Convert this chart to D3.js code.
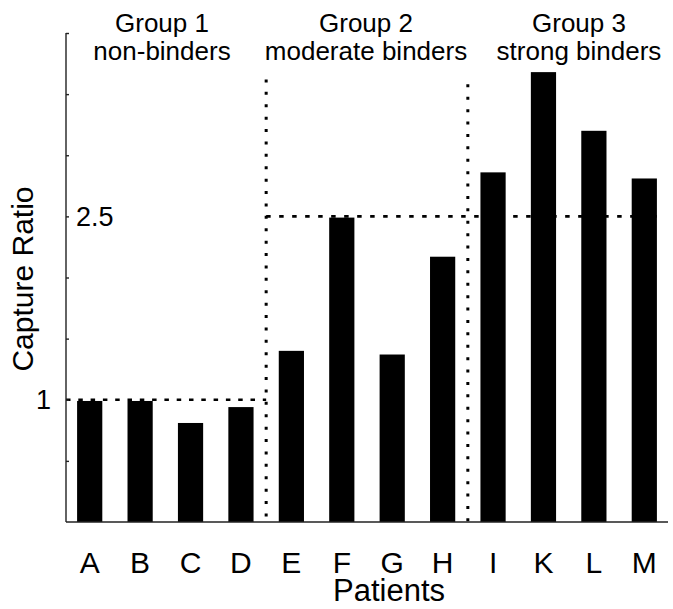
<!DOCTYPE html>
<html>
<head>
<meta charset="utf-8">
<script src="https://cdn.jsdelivr.net/npm/d3@7"></script>
<style>
  body { margin: 0; background: #fff; }
  text { font-family: "Liberation Sans", Arial, sans-serif; fill: #000; }
</style>
</head>
<body>
<div id="container"></div>
<script>
// patients and their capture ratios
let patients = ["A", "B", "C", "D", "E", "F", "G", "H", "I", "K", "L", "M"];
let captureRatio = [0.99, 0.99, 0.81, 0.94, 1.40, 2.49, 1.37, 2.17, 2.86, 3.68, 3.20, 2.81];

// group headings (two lines each) and the patients they span
let groupTitles = ["Group 1", "Group 2", "Group 3"];
let groupSubtitles = ["non-binders", "moderate binders", "strong binders"];
let groupFirst = ["A", "E", "I"];
let groupLast = ["D", "H", "M"];

// thresholds drawn as dotted lines
let thresholds = [1, 2.5];
let labelledTicks = ["1", "2.5"];
let yTicks = [0.5, 1, 1.5, 2, 2.5, 3, 3.5, 4];

let width = 673;
let height = 609;

let svg = d3.select("#container")
    .append("svg")
    .attr("width", width)
    .attr("height", height);

let x = d3.scaleBand()
    .domain(patients)
    .range([66, 668])
    .paddingInner(0.5)
    .paddingOuter(0.22);

let y = d3.scaleLinear()
    .domain([0, 4])
    .range([522, 33]);

// gap between two groups, halfway between last bar of one and first of next
function divider(i) {
    let a = x(groupLast[i]) + x.bandwidth();
    let b = x(groupFirst[i + 1]);
    return (a + b) / 2;
}

//Bars
svg.selectAll("rect.bar")
    .data(patients)
    .enter()
    .append("rect")
    .attr("class", "bar")
    .attr("x", d => x(d))
    .attr("width", x.bandwidth())
    .attr("y", (d, i) => y(captureRatio[i]))
    .attr("height", (d, i) => y(0) - y(captureRatio[i]))
    .attr("fill", "#000");

//Dotted threshold lines
let dotStyle = g => g.attr("stroke", "#000")
    .attr("stroke-width", 2.6)
    .attr("fill", "none");

svg.append("line").call(dotStyle)
    .attr("x1", x.range()[0]).attr("x2", divider(0))
    .attr("y1", y(thresholds[0])).attr("y2", y(thresholds[0]))
    .attr("stroke-dasharray", "4.5,7.8");

svg.append("line").call(dotStyle)
    .attr("x1", divider(0)).attr("x2", x("M") + x.bandwidth())
    .attr("y1", y(thresholds[1])).attr("y2", y(thresholds[1]))
    .attr("stroke-dasharray", "4.5,8.5");

// vertical dividers between the groups
let dividerTop = [3.62, 3.58];
[0, 1].forEach(i => {
    svg.append("line").call(dotStyle)
        .attr("x1", divider(i)).attr("x2", divider(i))
        .attr("y1", y(dividerTop[i])).attr("y2", y(0))
        .attr("stroke-width", 3)
        .attr("stroke-dasharray", "3,9.4");
});

//Axes
let yAxis = d3.axisRight(y)
    .tickValues(yTicks)
    .tickSize(3)
    .tickFormat("");
svg.append("g")
    .attr("transform", "translate(66,0)")
    .call(yAxis)
    .call(g => g.selectAll("line, path").attr("stroke", "#222").attr("stroke-width", 1.4))
    .call(g => g.select(".domain").attr("d", "M0," + y(4) + "V" + y(0)));

svg.append("line")
    .attr("x1", 66).attr("x2", 668)
    .attr("y1", y(0)).attr("y2", y(0))
    .attr("stroke", "#222")
    .attr("stroke-width", 1.6);

// y tick labels: "1" left of the axis, "2.5" inside the plot
svg.append("text")
    .attr("x", 51).attr("y", y(+labelledTicks[0]))
    .attr("dy", "0.36em")
    .attr("text-anchor", "end")
    .attr("font-size", 27)
    .text(labelledTicks[0]);
svg.append("text")
    .attr("x", 76).attr("y", y(+labelledTicks[1]))
    .attr("dy", "0.36em")
    .attr("font-size", 27)
    .text(labelledTicks[1]);

// patient letters
svg.selectAll("text.pat")
    .data(patients)
    .enter()
    .append("text")
    .attr("class", "pat")
    .attr("x", d => x(d) + x.bandwidth() / 2)
    .attr("y", 573)
    .attr("text-anchor", "middle")
    .attr("font-size", 30)
    .text(d => d);

svg.append("text")
    .attr("x", 389).attr("y", 601)
    .attr("text-anchor", "middle")
    .attr("font-size", 31)
    .text("Patients");

svg.append("text")
    .attr("transform", "translate(33,279) rotate(-90)")
    .attr("text-anchor", "middle")
    .attr("font-size", 30)
    .text("Capture Ratio");

// group headings
let groupCenters = [162, 366, 579];
groupTitles.forEach((t, i) => {
    svg.append("text")
        .attr("x", groupCenters[i]).attr("y", 32)
        .attr("text-anchor", "middle")
        .attr("font-size", 26)
        .text(t);
    svg.append("text")
        .attr("x", groupCenters[i]).attr("y", 60)
        .attr("text-anchor", "middle")
        .attr("font-size", 26)
        .text(groupSubtitles[i]);
});
</script>
</body>
</html>
